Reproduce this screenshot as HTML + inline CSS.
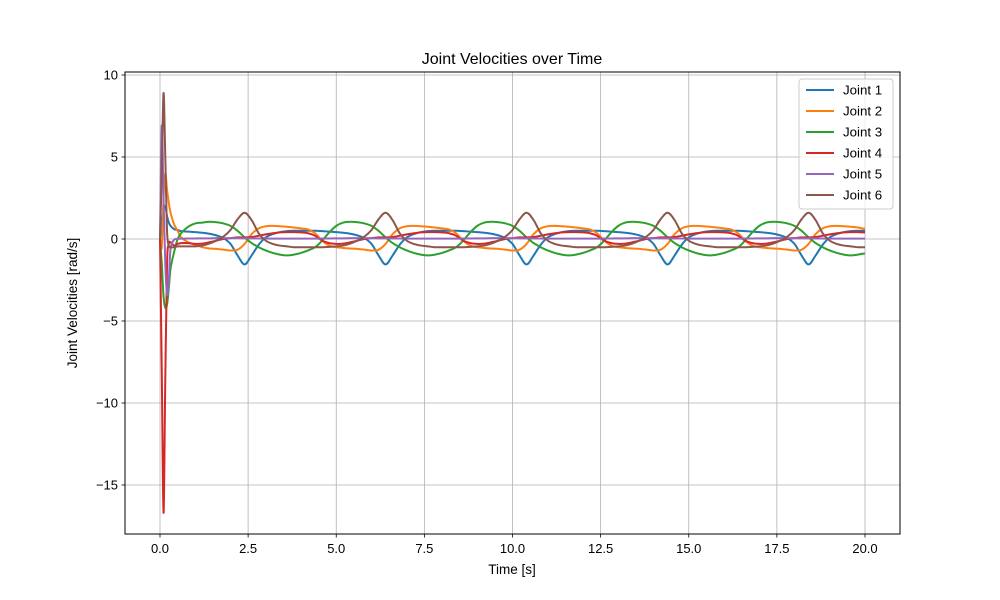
<!DOCTYPE html>
<html><head><meta charset="utf-8"><style>
body{margin:0;background:#fff;}
svg{display:block;font-family:"Liberation Sans","DejaVu Sans",sans-serif;}
</style></head><body>
<svg id="chart" width="1000" height="600" viewBox="0 0 1000 600">
<rect width="1000" height="600" fill="#fff"/>
<g id="grid"></g>
<g id="series"></g>
<rect x="125" y="72" width="775" height="462" fill="none" stroke="#000" stroke-width="1"/>
<g id="ticks"></g>
<text x="512" y="64" text-anchor="middle" font-size="16">Joint Velocities over Time</text>
<text x="512" y="574" text-anchor="middle" font-size="13.5">Time [s]</text>
<text x="77" y="303" text-anchor="middle" font-size="13.5" transform="rotate(-90 77 303)">Joint Velocities [rad/s]</text>
<g id="legend">
<rect x="799" y="79" width="94" height="130" rx="3" fill="#fff" fill-opacity="0.8" stroke="#ccc" stroke-width="1"/>
</g>
</svg>
<script>
const names=["Joint 1","Joint 2","Joint 3","Joint 4","Joint 5","Joint 6"];
const colors=["#1f77b4","#ff7f0e","#2ca02c","#d62728","#9467bd","#8c564b"];
const xTicks=[0,2.5,5,7.5,10,12.5,15,17.5,20];
const yTicks=[10,5,0,-5,-10,-15];
const timesStart=[0,0.05,0.1,0.15,0.2,0.25,0.3,0.4,0.5];
const j1=[0,0.8,1.9,1.95,1.4,1.0,0.8,0.6,0.55,
0.48,0.45,0.42,0.38,0.32,0.22,0.05,-0.3,-1.0,-1.55,-1.0,-0.35,0.1,0.3,0.42,0.48,0.5,
0.5,0.5,0.5,0.48,0.45,0.42,0.38,0.32,0.22,0.05,-0.3,-1.0,-1.55,-1.0,-0.35,0.1,0.3,0.42,0.48,0.5,
0.5,0.5,0.5,0.48,0.45,0.42,0.38,0.32,0.22,0.05,-0.3,-1.0,-1.55,-1.0,-0.35,0.1,0.3,0.42,0.48,0.5,
0.5,0.5,0.5,0.48,0.45,0.42,0.38,0.32,0.22,0.05,-0.3,-1.0,-1.55,-1.0,-0.35,0.1,0.3,0.42,0.48,0.5,
0.5,0.5,0.5,0.48,0.45,0.42,0.38,0.32,0.22,0.05,-0.3,-1.0,-1.55,-1.0,-0.35,0.1,0.3,0.42,0.48,0.5,
0.5];
const j2=[0,-0.5,2.5,4.0,3.0,2.2,1.6,0.9,0.5,
0.1,-0.2,-0.35,-0.5,-0.58,-0.6,-0.65,-0.7,-0.65,-0.3,0.3,0.65,0.78,0.8,0.78,0.75,0.7,
0.65,0.58,0.35,-0.1,-0.4,-0.5,-0.55,-0.58,-0.6,-0.65,-0.7,-0.65,-0.3,0.3,0.65,0.78,0.8,0.78,0.75,0.7,
0.65,0.58,0.35,-0.1,-0.4,-0.5,-0.55,-0.58,-0.6,-0.65,-0.7,-0.65,-0.3,0.3,0.65,0.78,0.8,0.78,0.75,0.7,
0.65,0.58,0.35,-0.1,-0.4,-0.5,-0.55,-0.58,-0.6,-0.65,-0.7,-0.65,-0.3,0.3,0.65,0.78,0.8,0.78,0.75,0.7,
0.65,0.58,0.35,-0.1,-0.4,-0.5,-0.55,-0.58,-0.6,-0.65,-0.7,-0.65,-0.3,0.3,0.65,0.78,0.8,0.78,0.75,0.7,
0.62];
const j3=[0,-1.5,-3.5,-4.2,-4.0,-3.0,-1.8,-0.8,0.0,
0.35,0.75,0.95,1.0,1.05,1.02,0.95,0.8,0.5,0.1,-0.25,-0.5,-0.7,-0.85,-0.95,-1.0,-0.95,
-0.85,-0.7,-0.5,-0.1,0.4,0.8,1.0,1.05,1.02,0.95,0.8,0.5,0.1,-0.25,-0.5,-0.7,-0.85,-0.95,-1.0,-0.95,
-0.85,-0.7,-0.5,-0.1,0.4,0.8,1.0,1.05,1.02,0.95,0.8,0.5,0.1,-0.25,-0.5,-0.7,-0.85,-0.95,-1.0,-0.95,
-0.85,-0.7,-0.5,-0.1,0.4,0.8,1.0,1.05,1.02,0.95,0.8,0.5,0.1,-0.25,-0.5,-0.7,-0.85,-0.95,-1.0,-0.95,
-0.85,-0.7,-0.5,-0.1,0.4,0.8,1.0,1.05,1.02,0.95,0.8,0.5,0.1,-0.25,-0.5,-0.7,-0.85,-0.95,-1.0,-0.95,
-0.88];
const j4=[0,-8,-16.7,-8.5,-1.5,-0.3,-0.2,-0.4,-0.3,
-0.25,-0.25,-0.3,-0.28,-0.2,-0.1,0.0,0.05,0.1,0.1,0.12,0.2,0.28,0.35,0.4,0.42,0.42,
0.4,0.35,0.2,-0.1,-0.25,-0.3,-0.28,-0.2,-0.1,0.0,0.05,0.1,0.1,0.12,0.2,0.28,0.35,0.4,0.42,0.42,
0.4,0.35,0.2,-0.1,-0.25,-0.3,-0.28,-0.2,-0.1,0.0,0.05,0.1,0.1,0.12,0.2,0.28,0.35,0.4,0.42,0.42,
0.4,0.35,0.2,-0.1,-0.25,-0.3,-0.28,-0.2,-0.1,0.0,0.05,0.1,0.1,0.12,0.2,0.28,0.35,0.4,0.42,0.42,
0.4,0.35,0.2,-0.1,-0.25,-0.3,-0.28,-0.2,-0.1,0.0,0.05,0.1,0.1,0.12,0.2,0.28,0.35,0.4,0.42,0.42,
0.4];
const j5=[0,6.9,2.5,-1.5,-3.4,-2.5,-0.6,-0.05,0.0,
0.02,0.03,0.03,0.04,0.04,0.05,0.05,0.05,0.05,0.04,0.04,0.03,0.03,0.02,0.02,0.02,0.02,
0.02,0.02,0.02,0.03,0.03,0.04,0.04,0.05,0.05,0.05,0.05,0.04,0.04,0.03,0.03,0.02,0.02,0.02,0.02,0.02,
0.02,0.02,0.02,0.03,0.03,0.04,0.04,0.05,0.05,0.05,0.05,0.04,0.04,0.03,0.03,0.02,0.02,0.02,0.02,0.02,
0.02,0.02,0.02,0.03,0.03,0.04,0.04,0.05,0.05,0.05,0.05,0.04,0.04,0.03,0.03,0.02,0.02,0.02,0.02,0.02,
0.02,0.02,0.02,0.03,0.03,0.04,0.04,0.05,0.05,0.05,0.05,0.04,0.04,0.03,0.03,0.02,0.02,0.02,0.02,0.02,
0.02];
const j6=[0,4,8.9,5,0.5,-0.4,-0.5,-0.5,-0.45,
-0.45,-0.45,-0.45,-0.4,-0.28,-0.1,0.15,0.55,1.2,1.6,1.15,0.35,-0.1,-0.3,-0.4,-0.45,-0.5,
-0.5,-0.5,-0.5,-0.5,-0.48,-0.45,-0.4,-0.28,-0.1,0.15,0.55,1.2,1.6,1.15,0.35,-0.1,-0.3,-0.4,-0.45,-0.5,
-0.5,-0.5,-0.5,-0.5,-0.48,-0.45,-0.4,-0.28,-0.1,0.15,0.55,1.2,1.6,1.15,0.35,-0.1,-0.3,-0.4,-0.45,-0.5,
-0.5,-0.5,-0.5,-0.5,-0.48,-0.45,-0.4,-0.28,-0.1,0.15,0.55,1.2,1.6,1.15,0.35,-0.1,-0.3,-0.4,-0.45,-0.5,
-0.5,-0.5,-0.5,-0.5,-0.48,-0.45,-0.4,-0.28,-0.1,0.15,0.55,1.2,1.6,1.15,0.35,-0.1,-0.3,-0.4,-0.45,-0.5,
-0.5];
const seriesData=[j1,j2,j3,j4,j5,j6];

const NS="http://www.w3.org/2000/svg";
const times=timesStart.slice();
for(let k=3;k<=100;k++) times.push(Math.round(k*0.2*100)/100);
function xs(v){return 160+(v-0)*(865-160)/20;}
function ys(v){return 239-v*16.4;}
function mk(tag,attrs,parent){const e=document.createElementNS(NS,tag);for(const k in attrs)e.setAttribute(k,attrs[k]);parent.appendChild(e);return e;}
function smoothPath(P){
  let d='M'+P[0][0].toFixed(2)+','+P[0][1].toFixed(2);
  for(let i=0;i<P.length-1;i++){
    const p0=P[Math.max(0,i-1)],p1=P[i],p2=P[i+1],p3=P[Math.min(P.length-1,i+2)];
    const c1x=p1[0]+(p2[0]-p0[0])/6,c1y=p1[1]+(p2[1]-p0[1])/6;
    const c2x=p2[0]-(p3[0]-p1[0])/6,c2y=p2[1]-(p3[1]-p1[1])/6;
    d+=' C'+c1x.toFixed(2)+','+c1y.toFixed(2)+' '+c2x.toFixed(2)+','+c2y.toFixed(2)+' '+p2[0].toFixed(2)+','+p2[1].toFixed(2);
  }
  return d;
}
const grid=document.getElementById('grid'),ticks=document.getElementById('ticks'),ser=document.getElementById('series'),leg=document.getElementById('legend');
xTicks.forEach(v=>{
  const x=xs(v);
  const g=mk('line',{x1:x,x2:x,y1:72,y2:534,stroke:'#b0b0b0','stroke-width':0.8},grid);
  
  
  const t=mk('line',{x1:x,x2:x,y1:534,y2:537.5,stroke:'#000','stroke-width':0.8},ticks);
  
  
  const l=mk('text',{x:x,y:553,'text-anchor':'middle','font-size':13},ticks);
  l.textContent=v.toFixed(1);
  
  
});
yTicks.forEach(v=>{
  const y=ys(v);
  const g=mk('line',{x1:125,x2:900,y1:y,y2:y,stroke:'#b0b0b0','stroke-width':0.8},grid);
  
  
  const t=mk('line',{x1:121.5,x2:125,y1:y,y2:y,stroke:'#000','stroke-width':0.8},ticks);
  
  
  const l=mk('text',{x:118,y:y+4.7,'text-anchor':'end','font-size':13},ticks);
  l.textContent=(v<0?'\u2212'+Math.abs(v):String(v));
  
  
});
seriesData.forEach((arr,i)=>{
  const P=arr.map((v,k)=>[xs(times[k]),ys(v)]);
  const p=mk('path',{d:smoothPath(P),fill:'none',stroke:colors[i],'stroke-width':2,'stroke-linejoin':'round'},ser);
  
  
  const y=90+i*21;
  const ll=mk('line',{x1:806,x2:834,y1:y,y2:y,stroke:colors[i],'stroke-width':2},leg);
  
  
  const lt=mk('text',{x:843,y:y+4.7,'font-size':13.3},leg);
  lt.textContent=names[i];
  
  
});
</script>
</body></html>
